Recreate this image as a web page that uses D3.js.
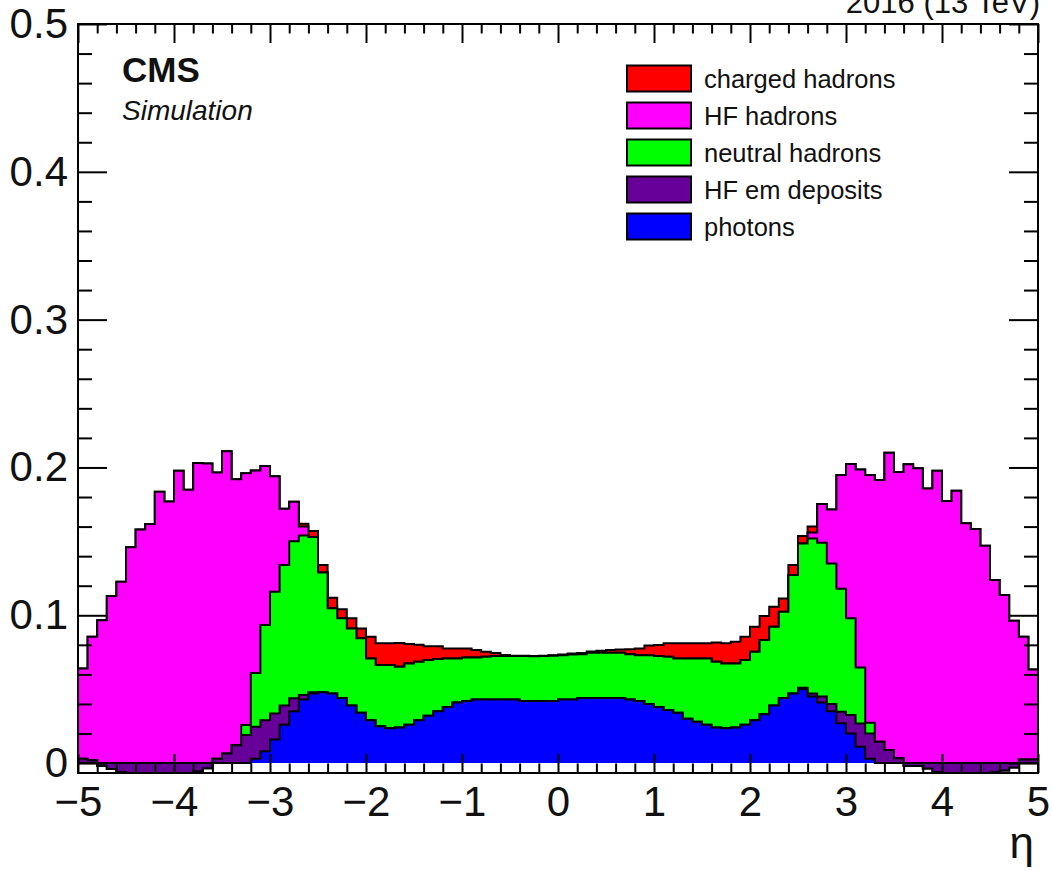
<!DOCTYPE html>
<html>
<head>
<meta charset="utf-8">
<script src="https://cdn.jsdelivr.net/npm/d3@7"></script>
<style>
  html, body { margin: 0; padding: 0; background: #ffffff; }
  svg { display: block; }
  text { font-family: "Liberation Sans", Arial, Helvetica, sans-serif; }
</style>
</head>
<body>
<svg id="chart" width="1052" height="871"></svg>
<script>
// ---------------- DATA ----------------
// 100 bins in eta from -5 to 5 (bin width 0.1)
const etaMin = -5, etaMax = 5, nBins = 100;

// stack order, bottom to top
const photons = [
  0,0,0,0,0,0,0,0,0,0, 0,0,0,0,0,0,0,0,0.003,0.008,
  0.016,0.026,0.035,0.043,0.047,0.048,0.047,0.044,0.039,0.034,
  0.029,0.025,0.0235,0.024,0.026,0.029,0.032,0.035,0.038,0.041,
  0.042,0.043,0.043,0.043,0.043,0.043,0.042,0.042,0.042,0.042,
  0.043,0.043,0.044,0.044,0.044,0.044,0.044,0.043,0.042,0.040,
  0.038,0.036,0.034,0.030,0.028,0.026,0.024,0.0235,0.024,0.026,
  0.029,0.033,0.039,0.044,0.047,0.050,0.045,0.041,0.035,0.027,
  0.020,0.011,0.003,0,0,0,0,0,0,0, 0,0,0,0,0,0,0,0,0,0
];
const hfEmDeposits = [
  0.003,0.002,-0.002,-0.004,-0.006,-0.007,-0.007,-0.007,-0.007,-0.007,
  -0.007,-0.007,-0.0055,-0.0035,0.003,0.0065,0.012,0.019,0.0216,0.021,
  0.0176,0.013,0.0088,0.003,0.001,0,0,0,0,0,
  0,0,0,0,0,0,0,0,0,0, 0,0,0,0,0,0,0,0,0,0,
  0,0,0,0,0,0,0,0,0,0, 0,0,0,0,0,0,0,0,0,0,
  0,0,0,0,0,0.001,0.002,0.004,0.005,0.0077,
  0.0125,0.0158,0.0171,0.0144,0.0088,0.0032,-0.002,-0.002,-0.0037,-0.006,
  -0.007,-0.007,-0.007,-0.007,-0.007,-0.006,-0.005,-0.003,0.0025,0.0025
];
const neutralHadrons = [
  0,0,0,0,0,0,0,0,0,0, 0,0,0,0,0,0,0,0.0067,0.0364,0.0644,
  0.0824,0.095,0.1062,0.108,0.105,0.081,0.0577,0.054,0.052,0.0504,
  0.0418,0.0413,0.0428,0.0412,0.0414,0.0395,0.0377,0.0354,0.0328,0.0298,
  0.0295,0.0285,0.029,0.0294,0.0294,0.0294,0.0304,0.0302,0.0304,0.0306,
  0.030,0.0305,0.0297,0.0306,0.0306,0.0306,0.0306,0.0307,0.031,0.033,
  0.0344,0.036,0.0368,0.0408,0.0428,0.0448,0.0445,0.0439,0.0434,0.0437,
  0.0463,0.0502,0.0532,0.0584,0.0802,0.0976,0.105,0.104,0.095,0.0833,
  0.0655,0.0379,0.0072,0,0,0,0,0,0,0, 0,0,0,0,0,0,0,0,0,0
];
const hfHadrons = [
  0.061,0.0835,0.0987,0.117,0.1287,0.153,0.165,0.1687,0.1906,0.184,
  0.2048,0.192,0.2085,0.2062,0.1936,0.2045,0.180,0.1703,0.137,0.1076,
  0.078,0.038,0.0268,0.006,0,0,0,0,0,0,
  0,0,0,0,0,0,0,0,0,0, 0,0,0,0,0,0,0,0,0,0,
  0,0,0,0,0,0,0,0,0,0, 0,0,0,0,0,0,0,0,0,0,
  0,0,0,0,0,0,0.004,0.0262,0.0366,0.0769,
  0.1043,0.134,0.1676,0.1771,0.2012,0.1938,0.2042,0.2014,0.1895,0.2038,
  0.1843,0.1913,0.1692,0.1653,0.154,0.1298,0.1187,0.0993,0.083,0.0609
];
const chargedHadrons = [
  0,0,0,0,0,0,0,0,0,0, 0,0,0,0,0,0,0,0,0,0,
  0,0,0,0.002,0.004,0.005,0.0071,0.006,0.007,0.0067,
  0.0147,0.0147,0.0147,0.0161,0.0131,0.0115,0.0093,0.0086,0.0068,0.0068,
  0.0061,0.005,0.0034,0.0021,0.0007,0.0003,0.0002,0.0002,0.0003,0.0003,
  0.0005,0.0007,0.0008,0.0009,0.0014,0.0019,0.0022,0.0033,0.0045,0.0065,
  0.0075,0.009,0.0102,0.0102,0.0102,0.0102,0.013,0.0136,0.0147,0.0158,
  0.0169,0.0163,0.0136,0.009,0.0068,0.005,0.004,0,0,0,
  0,0,0,0,0,0,0,0,0,0, 0,0,0,0,0,0,0,0,0,0
];

const stackSeries = [photons, hfEmDeposits, neutralHadrons, hfHadrons, chargedHadrons];
const stackColors = ["#0000ff", "#660099", "#00ff00", "#ff00ff", "#ff0000"];

const legendLabels = ["charged hadrons", "HF hadrons", "neutral hadrons", "HF em deposits", "photons"];
const legendColors = ["#ff0000", "#ff00ff", "#00ff00", "#660099", "#0000ff"];

const yMajorTicks = [0, 0.1, 0.2, 0.3, 0.4, 0.5];
const xMajorTicks = [-5, -4, -3, -2, -1, 0, 1, 2, 3, 4, 5];
const yDomain = [-0.0067, 0.5];

// ---------------- LAYOUT ----------------
const svg = d3.select("#chart");
const frame = { left: 78, right: 1038, top: 24, bottom: 773 };

const x = d3.scaleLinear().domain([etaMin, etaMax]).range([frame.left, frame.right]);
const y = d3.scaleLinear().domain(yDomain).range([frame.bottom, frame.top]);

svg.append("rect").attr("width", 1052).attr("height", 871).attr("fill", "#fff");

svg.append("defs").append("clipPath").attr("id", "plotclip")
  .append("rect")
  .attr("x", frame.left).attr("y", frame.top)
  .attr("width", frame.right - frame.left).attr("height", frame.bottom - frame.top);

const binW = (etaMax - etaMin) / nBins;
const edges = d3.range(nBins + 1).map(i => etaMin + i * binW);

// cumulative levels
const levels = [];
let run = new Array(nBins).fill(0);
stackSeries.forEach(s => {
  run = run.map((v, i) => v + s[i]);
  levels.push(run.slice());
});

function stepPoints(vals) {
  const pts = [];
  vals.forEach((v, i) => {
    pts.push({ e: edges[i], v: v });
    pts.push({ e: edges[i + 1], v: v });
  });
  return pts;
}

const area = d3.area()
  .x(d => x(d.e))
  .y0(y(0))
  .y1(d => y(d.v));
const line = d3.line()
  .x(d => x(d.e))
  .y(d => y(d.v));

const gHist = svg.append("g").attr("clip-path", "url(#plotclip)");

// ROOT THStack style: draw cumulative sums from the top level down
for (let k = levels.length - 1; k >= 0; k--) {
  const pts = stepPoints(levels[k]);
  gHist.append("path")
    .attr("d", area(pts))
    .attr("fill", stackColors[k])
    .attr("stroke", "none");
  const outline = [{ e: etaMin, v: 0 }].concat(pts).concat([{ e: etaMax, v: 0 }]);
  gHist.append("path")
    .attr("d", line(outline))
    .attr("fill", "none")
    .attr("stroke", "#000")
    .attr("stroke-width", 2)
    .attr("stroke-linejoin", "miter");
}

// ---------------- AXES ----------------
const xMinorTicks = d3.range(-5, 5.0001, 0.2).map(v => Math.round(v * 10) / 10)
  .filter(v => Math.abs(v - Math.round(v)) > 1e-6);
const yMinorTicks = d3.range(0, 0.5001, 0.02).map(v => Math.round(v * 100) / 100)
  .filter(v => Math.abs(v * 10 - Math.round(v * 10)) > 1e-6);

const fmtX = d => d < 0 ? "\u2212" + Math.abs(d) : String(d);
const fmtY = d => d === 0 ? "0" : d3.format(".1f")(d);

function styleAxis(g) {
  g.select(".domain").remove();
  g.selectAll(".tick line").attr("stroke", "#000").attr("stroke-width", 2);
  g.selectAll(".tick text")
    .attr("fill", "#111")
    .style("font-size", "42px")
    .style("font-family", '"Liberation Sans", Arial, sans-serif');
}

// bottom
svg.append("g").attr("transform", `translate(0,${frame.bottom})`)
  .call(d3.axisBottom(x).tickValues(xMajorTicks).tickSize(-19).tickPadding(13).tickFormat(fmtX))
  .call(styleAxis);
svg.append("g").attr("transform", `translate(0,${frame.bottom})`)
  .call(d3.axisBottom(x).tickValues(xMinorTicks).tickSize(-9.5).tickFormat(""))
  .call(styleAxis);
// top
svg.append("g").attr("transform", `translate(0,${frame.top})`)
  .call(d3.axisTop(x).tickValues(xMajorTicks).tickSize(-19).tickFormat(""))
  .call(styleAxis);
svg.append("g").attr("transform", `translate(0,${frame.top})`)
  .call(d3.axisTop(x).tickValues(xMinorTicks).tickSize(-9.5).tickFormat(""))
  .call(styleAxis);
// left
svg.append("g").attr("transform", `translate(${frame.left},0)`)
  .call(d3.axisLeft(y).tickValues(yMajorTicks).tickSize(-29).tickPadding(10).tickFormat(fmtY))
  .call(styleAxis);
svg.append("g").attr("transform", `translate(${frame.left},0)`)
  .call(d3.axisLeft(y).tickValues(yMinorTicks).tickSize(-14).tickFormat(""))
  .call(styleAxis);
// right
svg.append("g").attr("transform", `translate(${frame.right},0)`)
  .call(d3.axisRight(y).tickValues(yMajorTicks).tickSize(-29).tickFormat(""))
  .call(styleAxis);
svg.append("g").attr("transform", `translate(${frame.right},0)`)
  .call(d3.axisRight(y).tickValues(yMinorTicks).tickSize(-14).tickFormat(""))
  .call(styleAxis);

// frame
svg.append("rect")
  .attr("x", frame.left).attr("y", frame.top)
  .attr("width", frame.right - frame.left).attr("height", frame.bottom - frame.top)
  .attr("fill", "none").attr("stroke", "#000").attr("stroke-width", 2);

// axis title
svg.append("text")
  .attr("x", frame.right - 4).attr("y", 858)
  .attr("text-anchor", "end")
  .style("font-size", "44px").attr("fill", "#111")
  .text("\u03b7");

// ---------------- TEXTS ----------------
svg.append("text")
  .attr("x", frame.right + 2).attr("y", 13)
  .attr("text-anchor", "end")
  .style("font-size", "31px").attr("fill", "#111")
  .text("2016 (13 TeV)");

svg.append("text")
  .attr("x", 122).attr("y", 82)
  .style("font-size", "35px").style("font-weight", "bold").attr("fill", "#111")
  .text("CMS");

svg.append("text")
  .attr("x", 122).attr("y", 120)
  .style("font-size", "28px").style("font-style", "italic").attr("fill", "#111")
  .text("Simulation");

// ---------------- LEGEND ----------------
const legend = svg.append("g");
const rowY = d3.scaleLinear().domain([0, legendLabels.length - 1]).range([78.5, 226.5]);
legendLabels.forEach((lab, i) => {
  const cy = rowY(i);
  legend.append("rect")
    .attr("x", 627).attr("y", cy - 13)
    .attr("width", 64).attr("height", 26)
    .attr("fill", legendColors[i])
    .attr("stroke", "#000").attr("stroke-width", 2);
  legend.append("text")
    .attr("x", 704).attr("y", cy)
    .attr("dy", "0.36em")
    .style("font-size", "25.5px").attr("fill", "#111")
    .text(lab);
});
</script>
</body>
</html>
